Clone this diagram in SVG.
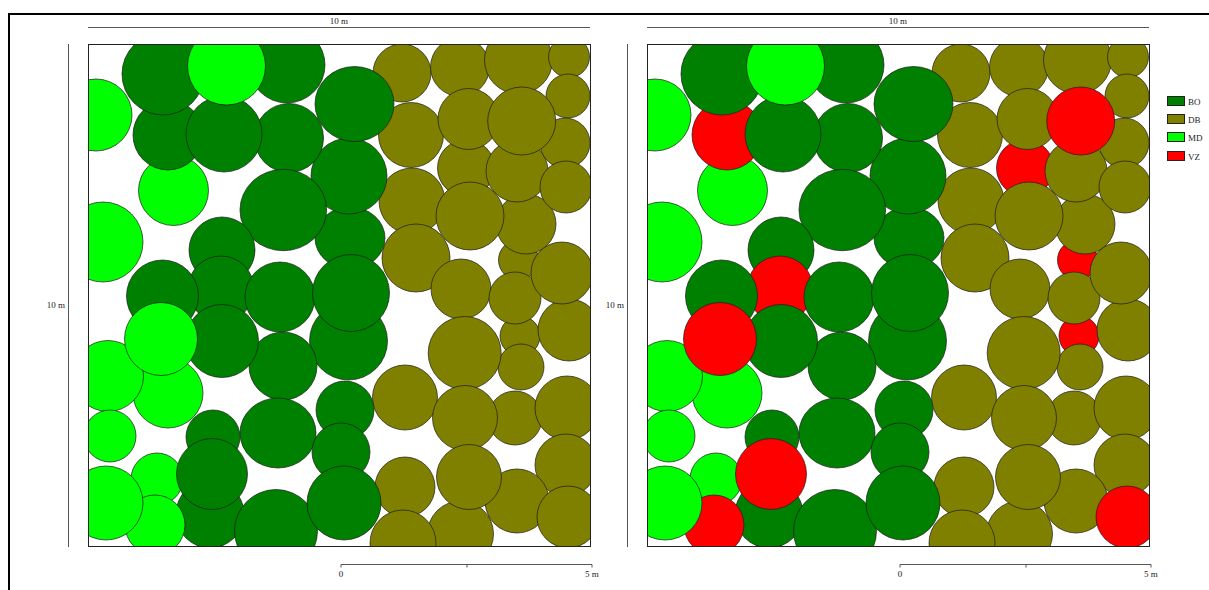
<svg xmlns="http://www.w3.org/2000/svg" width="1209" height="590" viewBox="0 0 1209 590">
<style>
.bo{fill:#008000}.db{fill:#808000}.md{fill:#00ff00}.vz{fill:#ff0000}
circle,ellipse{stroke:#1a1a1a;stroke-width:0.7}
.ax{stroke:#555;stroke-width:1;fill:none}
.box{fill:none;stroke:#222;stroke-width:1}
text{font-family:"Liberation Serif","DejaVu Serif",serif;font-size:9px;fill:#222}
.lg{stroke:#222;stroke-width:1}
</style>
<defs><clipPath id="panel"><rect x="88" y="44" width="503" height="503"/></clipPath></defs>
<rect x="0" y="0" width="1209" height="590" fill="#fff"/>
<rect x="9" y="14" width="1300" height="700" fill="none" stroke="#000" stroke-width="2"/>

<g id="panel-left" clip-path="url(#panel)">
<circle class="db" cx="402" cy="73" r="29"/>
<circle class="db" cx="460" cy="67" r="29.5"/>
<circle class="db" cx="518.5" cy="60" r="34"/>
<circle class="db" cx="569" cy="57" r="20.5"/>
<circle class="db" cx="568" cy="96" r="22"/>
<circle class="db" cx="518.5" cy="260" r="20"/>
<circle class="db" cx="526" cy="224" r="30"/>
<circle class="db" cx="466" cy="168" r="28.5"/>
<circle class="db" cx="412" cy="201" r="33"/>
<circle class="db" cx="517" cy="171" r="31"/>
<circle class="db" cx="565" cy="143" r="25"/>
<circle class="db" cx="566" cy="187" r="26"/>
<circle class="db" cx="411" cy="135" r="32.5"/>
<circle class="db" cx="468.5" cy="119" r="30.5"/>
<circle class="db" cx="521.7" cy="121" r="34"/>
<circle class="db" cx="470" cy="216" r="34"/>
<circle class="db" cx="416" cy="258" r="34"/>
<circle class="db" cx="461" cy="289" r="30"/>
<circle class="db" cx="520" cy="336" r="20"/>
<circle class="db" cx="569" cy="330" r="31"/>
<circle class="db" cx="515" cy="298" r="26"/>
<circle class="db" cx="562" cy="273" r="31"/>
<circle class="db" cx="521" cy="367" r="23"/>
<circle class="db" cx="464.7" cy="353" r="36.5"/>
<circle class="db" cx="405" cy="397.5" r="32.5"/>
<circle class="db" cx="515" cy="418" r="27"/>
<circle class="db" cx="465" cy="418" r="32.5"/>
<circle class="db" cx="567" cy="408" r="32"/>
<circle class="db" cx="405" cy="487" r="30"/>
<circle class="db" cx="566" cy="465" r="31"/>
<circle class="db" cx="517" cy="501" r="32"/>
<circle class="db" cx="460.5" cy="534" r="33"/>
<circle class="db" cx="469" cy="477" r="32.5"/>
<circle class="db" cx="403" cy="543" r="33"/>
<circle class="db" cx="568" cy="517" r="31"/>
<circle class="md" cx="96" cy="115" r="36"/>
<circle class="md" cx="103" cy="242" r="40"/>
<circle class="md" cx="173.5" cy="190.5" r="35"/>
<ellipse class="bo" cx="350" cy="238" rx="35" ry="31"/>
<circle class="bo" cx="349" cy="176" r="38"/>
<ellipse class="bo" cx="354.5" cy="104" rx="39.5" ry="37.5"/>
<circle class="bo" cx="287" cy="65" r="38"/>
<circle class="bo" cx="168" cy="135" r="35"/>
<circle class="bo" cx="163" cy="74" r="41"/>
<circle class="bo" cx="289" cy="138" r="34.5"/>
<circle class="bo" cx="224" cy="134" r="38"/>
<circle class="md" cx="226.5" cy="66" r="39"/>
<ellipse class="bo" cx="283.3" cy="210" rx="43.3" ry="40.7"/>
<circle class="bo" cx="222" cy="250" r="33"/>
<circle class="bo" cx="221" cy="289" r="33"/>
<circle class="bo" cx="162.5" cy="296" r="36"/>
<circle class="bo" cx="280" cy="297" r="35"/>
<circle class="bo" cx="348.5" cy="341" r="39"/>
<circle class="bo" cx="351" cy="293" r="38.5"/>
<circle class="bo" cx="283" cy="366" r="34"/>
<circle class="bo" cx="222" cy="341" r="36.5"/>
<circle class="md" cx="168" cy="393" r="35"/>
<circle class="md" cx="108" cy="376" r="35.5"/>
<circle class="md" cx="161" cy="339" r="36.5"/>
<circle class="md" cx="110" cy="436" r="26"/>
<ellipse class="bo" cx="278" cy="433" rx="38" ry="35"/>
<circle class="bo" cx="213" cy="437" r="27"/>
<circle class="md" cx="157" cy="479" r="26"/>
<circle class="bo" cx="210" cy="514" r="34"/>
<circle class="md" cx="155" cy="525" r="30"/>
<circle class="md" cx="106" cy="503" r="37"/>
<circle class="bo" cx="212" cy="474" r="35.5"/>
<circle class="bo" cx="276" cy="531" r="41.5"/>
<circle class="bo" cx="345" cy="410" r="29"/>
<circle class="bo" cx="341" cy="452" r="29"/>
<circle class="bo" cx="344" cy="503" r="37"/>
</g>

<g id="panel-right" transform="translate(559,0)" clip-path="url(#panel)">
<circle class="db" cx="402" cy="73" r="29"/>
<circle class="db" cx="460" cy="67" r="29.5"/>
<circle class="db" cx="518.5" cy="60" r="34"/>
<circle class="db" cx="569" cy="57" r="20.5"/>
<circle class="db" cx="568" cy="96" r="22"/>
<circle class="vz" cx="518.5" cy="260" r="20"/>
<circle class="db" cx="526" cy="224" r="30"/>
<circle class="vz" cx="466" cy="168" r="28.5"/>
<circle class="db" cx="412" cy="201" r="33"/>
<circle class="db" cx="517" cy="171" r="31"/>
<circle class="db" cx="565" cy="143" r="25"/>
<circle class="db" cx="566" cy="187" r="26"/>
<circle class="db" cx="411" cy="135" r="32.5"/>
<circle class="db" cx="468.5" cy="119" r="30.5"/>
<circle class="vz" cx="521.7" cy="121" r="34"/>
<circle class="db" cx="470" cy="216" r="34"/>
<circle class="db" cx="416" cy="258" r="34"/>
<circle class="db" cx="461" cy="289" r="30"/>
<circle class="vz" cx="520" cy="336" r="20"/>
<circle class="db" cx="569" cy="330" r="31"/>
<circle class="db" cx="515" cy="298" r="26"/>
<circle class="db" cx="562" cy="273" r="31"/>
<circle class="db" cx="521" cy="367" r="23"/>
<circle class="db" cx="464.7" cy="353" r="36.5"/>
<circle class="db" cx="405" cy="397.5" r="32.5"/>
<circle class="db" cx="515" cy="418" r="27"/>
<circle class="db" cx="465" cy="418" r="32.5"/>
<circle class="db" cx="567" cy="408" r="32"/>
<circle class="db" cx="405" cy="487" r="30"/>
<circle class="db" cx="566" cy="465" r="31"/>
<circle class="db" cx="517" cy="501" r="32"/>
<circle class="db" cx="460.5" cy="534" r="33"/>
<circle class="db" cx="469" cy="477" r="32.5"/>
<circle class="db" cx="403" cy="543" r="33"/>
<circle class="vz" cx="568" cy="517" r="31"/>
<circle class="md" cx="96" cy="115" r="36"/>
<circle class="md" cx="103" cy="242" r="40"/>
<circle class="md" cx="173.5" cy="190.5" r="35"/>
<ellipse class="bo" cx="350" cy="238" rx="35" ry="31"/>
<circle class="bo" cx="349" cy="176" r="38"/>
<ellipse class="bo" cx="354.5" cy="104" rx="39.5" ry="37.5"/>
<circle class="bo" cx="287" cy="65" r="38"/>
<circle class="vz" cx="168" cy="135" r="35"/>
<circle class="bo" cx="163" cy="74" r="41"/>
<circle class="bo" cx="289" cy="138" r="34.5"/>
<circle class="bo" cx="224" cy="134" r="38"/>
<circle class="md" cx="226.5" cy="66" r="39"/>
<ellipse class="bo" cx="283.3" cy="210" rx="43.3" ry="40.7"/>
<circle class="bo" cx="222" cy="250" r="33"/>
<circle class="vz" cx="221" cy="289" r="33"/>
<circle class="bo" cx="162.5" cy="296" r="36"/>
<circle class="bo" cx="280" cy="297" r="35"/>
<circle class="bo" cx="348.5" cy="341" r="39"/>
<circle class="bo" cx="351" cy="293" r="38.5"/>
<circle class="bo" cx="283" cy="366" r="34"/>
<circle class="bo" cx="222" cy="341" r="36.5"/>
<circle class="md" cx="168" cy="393" r="35"/>
<circle class="md" cx="108" cy="376" r="35.5"/>
<circle class="vz" cx="161" cy="339" r="36.5"/>
<circle class="md" cx="110" cy="436" r="26"/>
<ellipse class="bo" cx="278" cy="433" rx="38" ry="35"/>
<circle class="bo" cx="213" cy="437" r="27"/>
<circle class="md" cx="157" cy="479" r="26"/>
<circle class="bo" cx="210" cy="514" r="34"/>
<circle class="vz" cx="155" cy="525" r="30"/>
<circle class="md" cx="106" cy="503" r="37"/>
<circle class="vz" cx="212" cy="474" r="35.5"/>
<circle class="bo" cx="276" cy="531" r="41.5"/>
<circle class="bo" cx="345" cy="410" r="29"/>
<circle class="bo" cx="341" cy="452" r="29"/>
<circle class="bo" cx="344" cy="503" r="37"/>
</g>

<g id="frames">
<rect class="box" x="88.5" y="44.5" width="502" height="502"/>
<rect class="box" x="647.5" y="44.5" width="502" height="502"/>
</g>

<g id="axes">
<path class="ax" d="M88,27.5H590 M68.5,44V547 M341,567.5V564.5H592V567.5 M467,564.5V567.5"/>
<path class="ax" d="M647,27.5H1149 M627.5,44V547 M900,567.5V564.5H1151V567.5 M1026,564.5V567.5"/>
<text x="339" y="24" text-anchor="middle">10 m</text>
<text x="898" y="24" text-anchor="middle">10 m</text>
<text x="65" y="308" text-anchor="end">10 m</text>
<text x="624" y="308" text-anchor="end">10 m</text>
<text x="341" y="577" text-anchor="middle">0</text>
<text x="585" y="577">5 m</text>
<text x="900" y="577" text-anchor="middle">0</text>
<text x="1144" y="577">5 m</text>
</g>

<g id="legend">
<rect class="lg bo" x="1167.5" y="96.5" width="17" height="9"/>
<text x="1188" y="104.5">BO</text>
<rect class="lg db" x="1167.5" y="114.5" width="17" height="9"/>
<text x="1188" y="122.5">DB</text>
<rect class="lg md" x="1167.5" y="132.5" width="17" height="9"/>
<text x="1188" y="140.5">MD</text>
<rect class="lg vz" x="1167.5" y="151.5" width="17" height="9"/>
<text x="1188" y="159.5">VZ</text>
</g>
</svg>
